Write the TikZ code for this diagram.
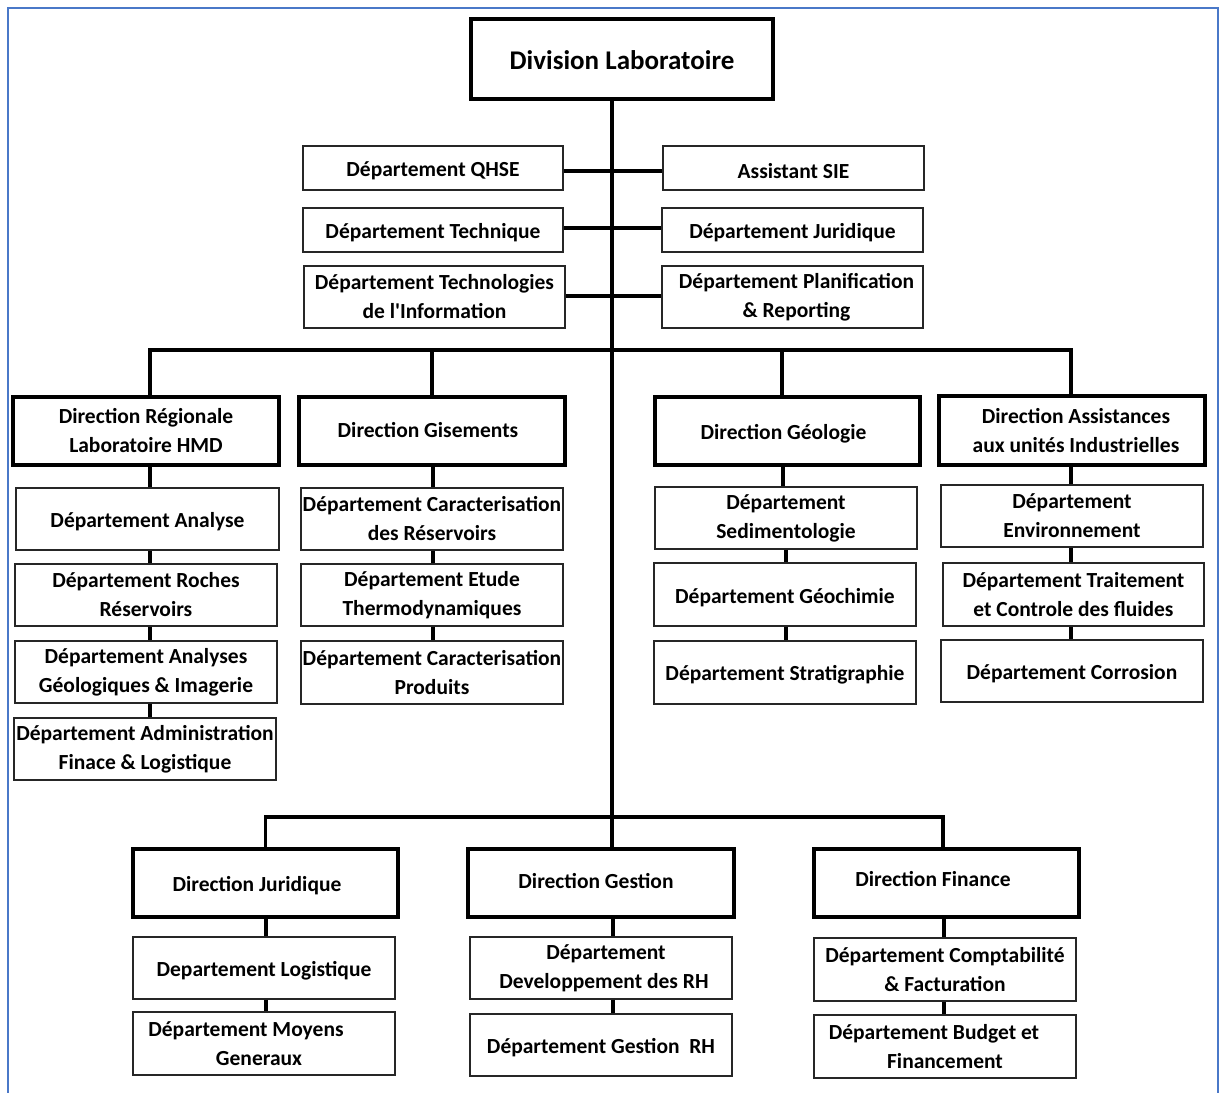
\documentclass[tikz,border=0pt]{standalone}
\usepackage{fontspec}
\setmainfont{Carlito}[Ligatures=TeXOff]
\definecolor{frameblue}{HTML}{4A78C8}
\begin{document}
\begin{tikzpicture}[x=1pt,y=-1pt,
  txt/.style={font=\fontsize{21.5}{29}\selectfont\bfseries, align=center, inner sep=0pt, text=black,
              execute at begin node={\rule{0pt}{20.5pt}}},
  dept/.style={txt, draw=black!85, line width=1.4pt, fill=white},
  dirbox/.style={txt, draw=black, line width=4pt, fill=white},
  conn/.style={draw=black, line width=3.6pt},
  spine/.style={draw=black, line width=4pt}]
\fill[white] (0,0) rectangle (1219,1093);
\useasboundingbox (0,0) rectangle (1219,1093);
\draw[frameblue, line width=2pt] (7.5,1093) -- (7.5,7.5) -- (1217.5,7.5) -- (1217.5,1093);

% top
\node[dirbox, minimum width=302, minimum height=80, font=\fontsize{27}{32}\selectfont\bfseries] (div) at (622,59) {Division Laboratoire};
\node[dept, minimum width=260, minimum height=44] (qhse) at (433,168) {Département QHSE};
\node[dept, minimum width=261, minimum height=44] (sie) at (793.5,168) {Assistant SIE};
\node[dept, minimum width=260, minimum height=44] (tech) at (433,230) {Département Technique};
\node[dept, minimum width=261, minimum height=44] (jurd) at (792.5,230) {Département Juridique};
\node[dept, minimum width=261, minimum height=62] (ti) at (434.5,297) {Département Technologies\\de l'Information};
\node[dept, minimum width=261, minimum height=62] (plan) at (792.5,297) {\hspace*{8pt}Département Planification\\\hspace*{8pt}\& Reporting};

% directions row 1
\node[dirbox, minimum width=266, minimum height=68] (dreg) at (146,431) {Direction Régionale\\Laboratoire HMD};
\node[dirbox, minimum width=266, minimum height=68, execute at begin node={}, text height=17pt, text depth=3.9pt] (dgis) at (432,431) {Direction Gisements\hspace*{8pt}};
\node[dirbox, minimum width=265, minimum height=68] (dgeo) at (787.5,431) {Direction Géologie\hspace*{8pt}};
\node[dirbox, minimum width=266, minimum height=69] (dasi) at (1072,430.5) {\hspace*{8pt}Direction Assistances\\\hspace*{8pt}aux unités Industrielles};

% column 1
\node[dept, minimum width=263, minimum height=62] (ana) at (147.5,519) {Département Analyse};
\node[dept, minimum width=262, minimum height=62] (roc) at (146,595) {Département Roches\\Réservoirs};
\node[dept, minimum width=262, minimum height=62] (agi) at (146,672) {Département Analyses\\Géologiques \& Imagerie};
\node[dept, minimum width=262, minimum height=62] (adm) at (145,749) {Département Administration\\Finace \& Logistique};
% column 2
\node[dept, minimum width=262, minimum height=62] (car) at (432,519) {Département Caracterisation\\des Réservoirs};
\node[dept, minimum width=262, minimum height=62] (etu) at (432,595) {Département Etude\\Thermodynamiques};
\node[dept, minimum width=262, minimum height=63] (cpr) at (432,672.5) {Département Caracterisation\\Produits};
% column 3
\node[dept, minimum width=262, minimum height=62] (sed) at (786,518) {Département\\Sedimentologie};
\node[dept, minimum width=262, minimum height=63] (geo) at (785,594.5) {Département Géochimie};
\node[dept, minimum width=262, minimum height=63] (str) at (785,672.5) {Département Stratigraphie};
% column 4
\node[dept, minimum width=262, minimum height=62] (env) at (1072,516) {Département\\Environnement};
\node[dept, minimum width=261, minimum height=63] (trt) at (1073.5,594.5) {Département Traitement\\et Controle des fluides};
\node[dept, minimum width=262, minimum height=62] (cor) at (1072,671) {Département Corrosion};

% bottom directions
\node[dirbox, minimum width=265, minimum height=68] (djur) at (265.5,883) {Direction Juridique\hspace*{17pt}};
\node[dirbox, minimum width=266, minimum height=68, execute at begin node={}, text height=15pt, text depth=3.9pt] (dges) at (601,883) {Direction Gestion\hspace*{10pt}};
\node[dirbox, minimum width=265, minimum height=68, execute at begin node={}, text height=13pt, text depth=5.9pt] (dfin) at (946.5,883) {Direction Finance\hspace*{27pt}};

\node[dept, minimum width=262, minimum height=62] (log) at (264,968) {Departement Logistique};
\node[dept, minimum width=262, minimum height=63] (moy) at (264,1043.5) {Département Moyens\hspace*{36pt}\\Generaux\hspace*{10pt}};
\node[dept, minimum width=262, minimum height=62] (dev) at (601,968) {\hspace*{10pt}Département\\\hspace*{6pt}Developpement des RH};
\node[dept, minimum width=262, minimum height=62] (grh) at (601,1045) {Département Gestion~~RH};
\node[dept, minimum width=262, minimum height=63] (cpt) at (945,969.5) {Département Comptabilité\\\& Facturation};
\node[dept, minimum width=262, minimum height=63] (bud) at (945,1046.5) {Département Budget et\hspace*{22pt}\\Financement};

% coordinates
\coordinate (tb) at (612,350);
\coordinate (bb) at (612,817);

% spine
\draw[spine] (div.south -| tb) -- (tb |- dges.north);
% side connectors
\draw[conn] (qhse.east |- 0,171) -- (sie.west |- 0,171);
\draw[conn] (tech.east |- 0,228) -- (jurd.west |- 0,228);
\draw[conn] (ti.east |- 0,296) -- (plan.west |- 0,296);
% top bar
\draw[conn] (dreg.north -| 150,0) |- (tb) -| (dasi.north -| 1071,0);
\draw[conn] (dgis.north) -- (dgis.north |- tb);
\draw[conn] (dgeo.north -| 782,0) -- (tb -| 782,0);
% bottom bar
\draw[conn] (djur.north) |- (bb) -| (dfin.north -| 943,0);

% column connectors
\foreach \a/\b/\x in {dreg/ana/150, ana/roc/150, roc/agi/150, agi/adm/150,
                      dgis/car/433, car/etu/433, etu/cpr/433,
                      dgeo/sed/783, sed/geo/786, geo/str/786,
                      dasi/env/1071, env/trt/1071, trt/cor/1071,
                      djur/log/266, log/moy/266,
                      dges/dev/613, dev/grh/613,
                      dfin/cpt/944, cpt/bud/944}
  \draw[conn, line width=3.2pt] (\a.south -| \x,0) -- (\b.north -| \x,0);
\end{tikzpicture}
\end{document}
